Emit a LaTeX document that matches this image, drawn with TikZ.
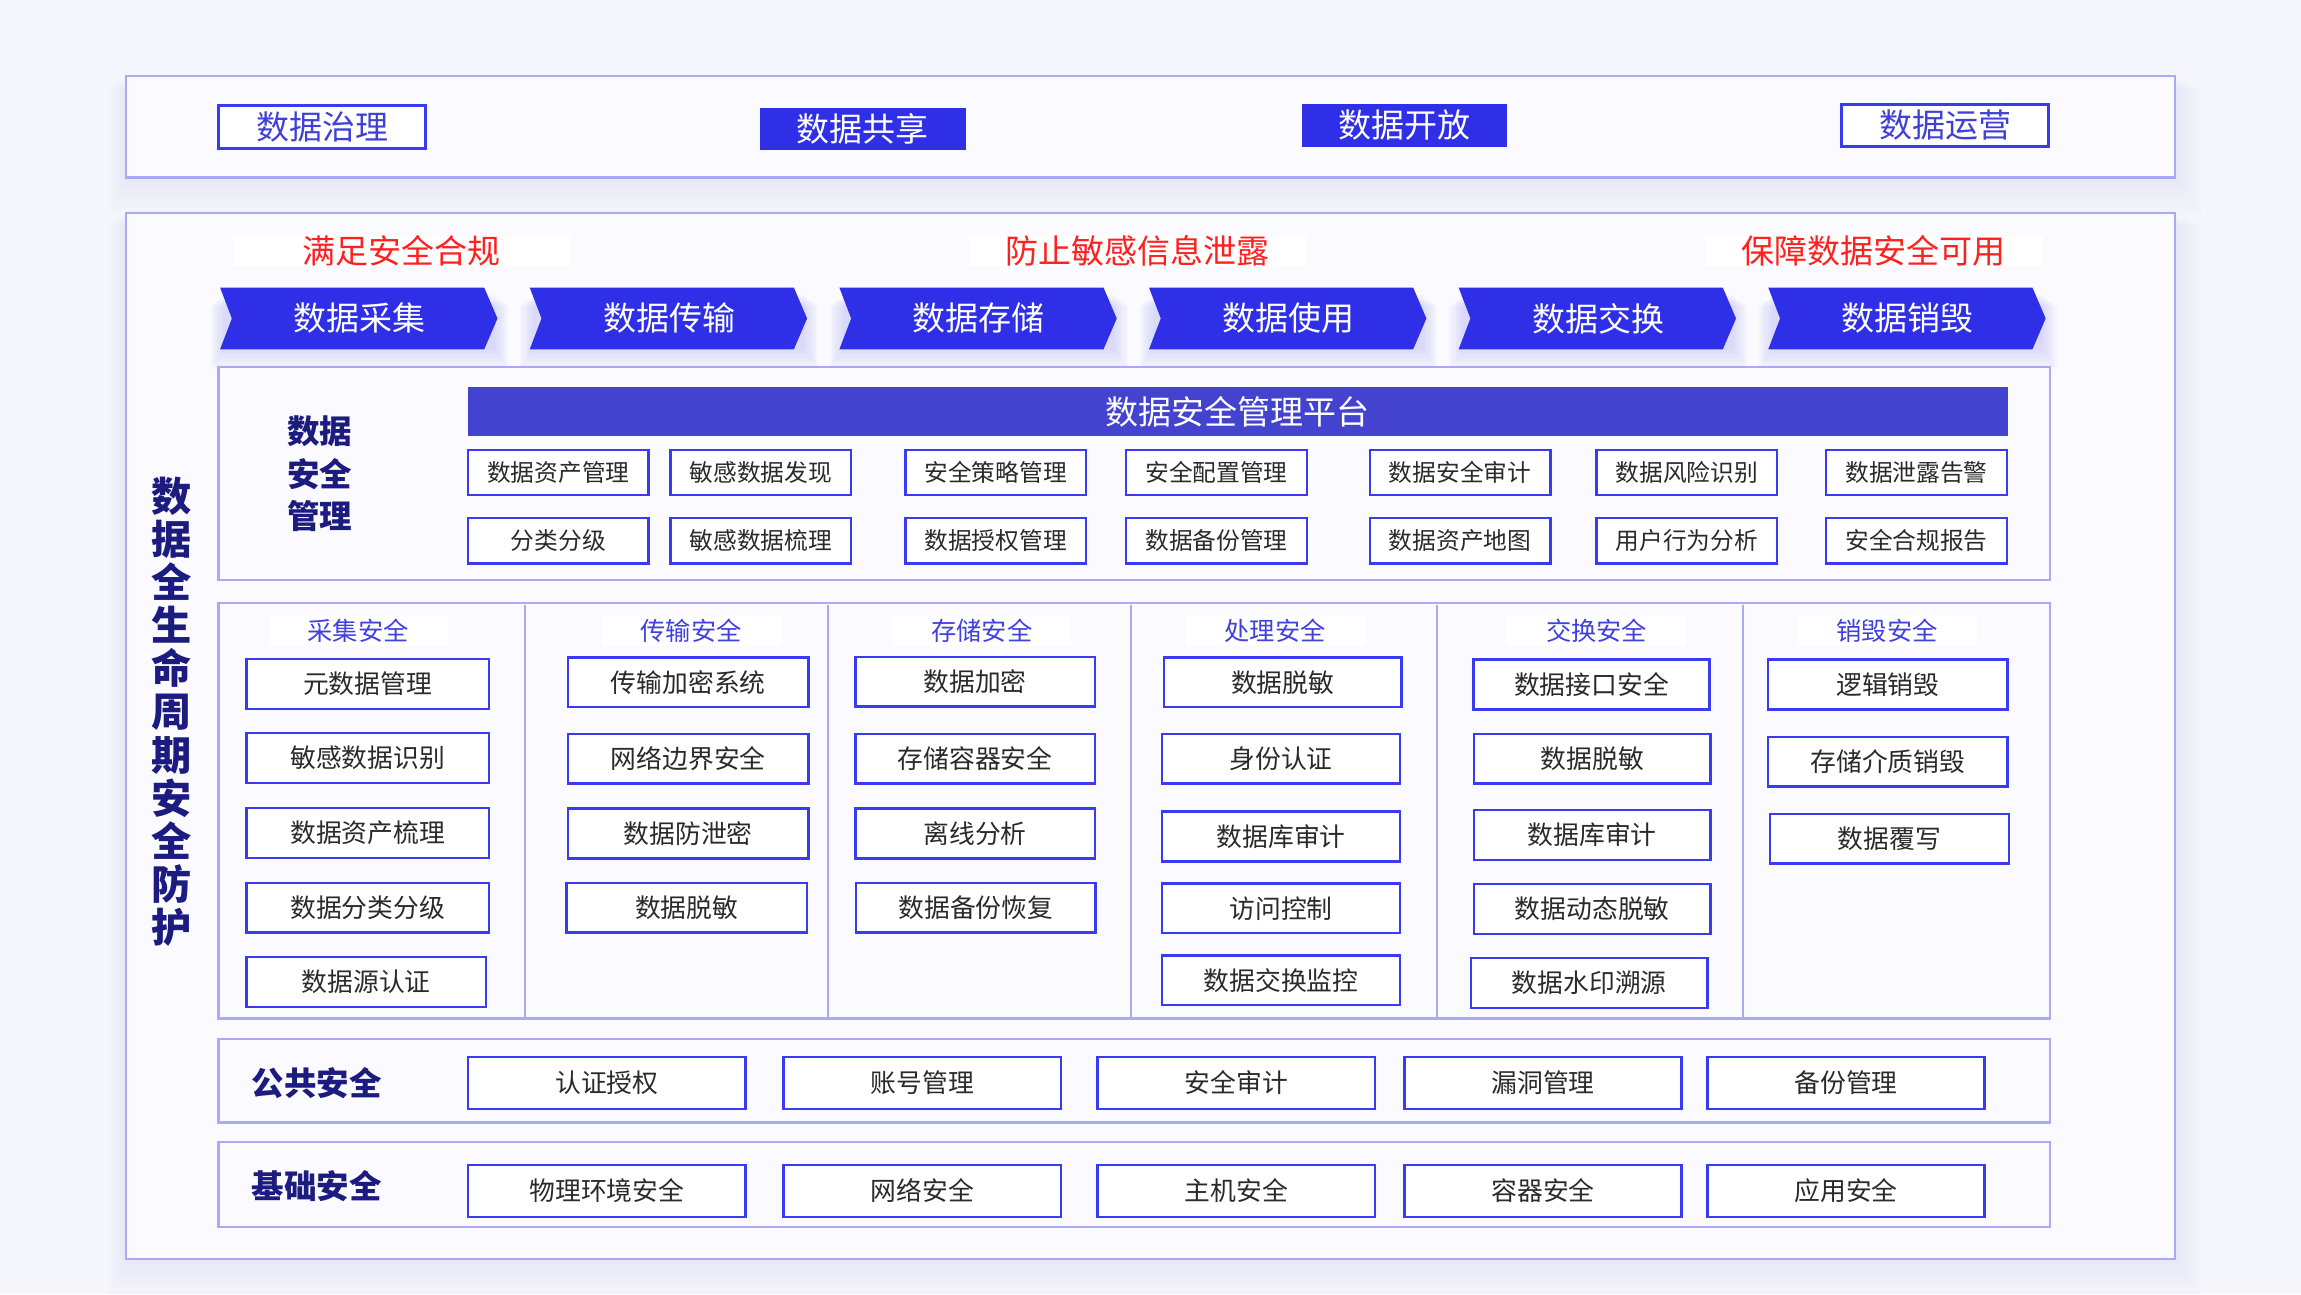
\documentclass[tikz,border=0pt]{standalone}
\usepackage{fontspec}
\setmainfont{Noto Sans CJK SC}
\newcommand\myfs[1]{\fontsize{#1}{#1}\selectfont}
\definecolor{bgc}{HTML}{F5F5FC}
\definecolor{panelfill}{HTML}{FAFAFF}
\definecolor{panelborder}{HTML}{A9A9F4}
\definecolor{boxblue}{HTML}{3A3AF0}
\definecolor{chev}{HTML}{2F2FE8}
\definecolor{plat}{HTML}{4343CF}
\definecolor{redtxt}{HTML}{FF2020}
\definecolor{navy}{HTML}{1C1C80}
\definecolor{hdrblue}{HTML}{4040E0}
\definecolor{itemtxt}{HTML}{2A2A2A}
\definecolor{toptxt}{HTML}{4040D8}
\definecolor{glowc}{HTML}{6A6AF0}
\begin{document}
\begin{tikzpicture}[x=0.1mm,y=-0.1mm,
  panel/.style={draw=panelborder,fill=panelfill,line width=0.45pt},
  divline/.style={draw=panelborder,line width=0.4pt},
  topout/.style={draw=boxblue,fill=white,line width=0.6pt,inner sep=0pt,minimum width=14.1mm,minimum height=2.9mm,text=toptxt,font=\myfs{6.4}},
  topfill/.style={fill=chev,inner sep=0pt,minimum width=14mm,minimum height=2.9mm,text=white,font=\myfs{6.4}},
  goal/.style={fill=white,inner sep=0pt,minimum width=23mm,minimum height=1.9mm,text=redtxt,font=\myfs{6.4}},
  chevtext/.style={text=white,font=\myfs{6.4},inner sep=0pt},
  mbox/.style={draw=boxblue,fill=white,line width=0.45pt,inner sep=0pt,minimum width=12.3mm,minimum height=3.1mm,text=itemtxt,font=\myfs{4.6}},
  ibox/.style={draw=boxblue,fill=white,line width=0.45pt,inner sep=0pt,minimum height=3.4mm,text=itemtxt,font=\myfs{5}},
  pbox/.style={draw=boxblue,fill=white,line width=0.5pt,inner sep=0pt,minimum width=18.9mm,minimum height=3.55mm,text=itemtxt,font=\myfs{5}},
  hdr/.style={fill=white,inner sep=0pt,minimum width=12.2mm,minimum height=2.1mm,text=hdrblue,font=\myfs{4.9}},
  lbl/.style={text=navy,font=\bfseries\myfs{6.3},inner sep=0pt,align=center}
]
% background
\fill[bgc] (0,0) rectangle (1568,882);
\useasboundingbox (0,0) rectangle (1568,882);
% soft shadows of outer boxes
\foreach \k in {1,...,6}{
  \fill[glowc,opacity=0.012] (86-\k*2,52+\k*1.5) rectangle (1482+\k*3,121+\k*4);
  \fill[glowc,opacity=0.012] (86-\k*2,145+\k*1.5) rectangle (1482+\k*3,858+\k*4);
}
% top box
\draw[panel] (86,52) rectangle (1482,121);
\node[topout] (tg) at (219.5,86.5) {数据治理};
\node[topfill] (ts) at (588,88) {数据共享};
\node[topfill] (to) at (957,85.5) {数据开放};
\node[topout] (ty) at (1325.5,85.5) {数据运营};
% main box
\draw[panel] (86,145) rectangle (1482,858);
% vertical label
\node[lbl,font=\bfseries\fontsize{7.8}{8.37}\selectfont,align=center] (vl) at (117,485)
  {数\\据\\全\\生\\命\\周\\期\\安\\全\\防\\护};
% goals
\node[goal] (g1) at (273.5,171) {满足安全合规};
\node[goal] (g2) at (775,171) {防止敏感信息泄露};
\node[goal] (g3) at (1277,171) {保障数据安全可用};
% chevrons
\foreach \t [count=\i from 0] in {数据采集,数据传输,数据存储,数据使用,数据交换,数据销毁}{
  \pgfmathsetmacro\xo{150+211*\i}
  \foreach \k in {1,...,7}{
    \fill[glowc,opacity=0.03] (\xo+4-\k*1.5,200+\k*1.2) rectangle (\xo+186+\k*1.5,236+\k*2.2);
  }
  \fill[chev] (\xo,196) -- ++(180,0) -- ++(9,21) -- ++(-9,21) -- ++(-180,0) -- ++(8,-21) -- cycle;
  \node[chevtext] (c\i) at (\xo+95,217) {\t};
}
% management panel
\draw[panel] (149,250) rectangle (1397,395);
\fill[plat] (319,264) rectangle (1368,297);
\node[text=white,font=\myfs{6.4},inner sep=0pt] (plat) at (843.5,280.5) {数据安全管理平台};
\node[lbl,font=\bfseries\fontsize{6.3}{8.25}\selectfont] (ml) at (218,323) {数据\\安全\\管理};
\node[mbox] (m11) at (380.5,322) {数据资产管理};
\node[mbox] (m12) at (518.5,322) {敏感数据发现};
\node[mbox] (m13) at (678.5,322) {安全策略管理};
\node[mbox] (m14) at (829,322) {安全配置管理};
\node[mbox] (m15) at (995,322) {数据安全审计};
\node[mbox] (m16) at (1149.5,322) {数据风险识别};
\node[mbox] (m17) at (1306,322) {数据泄露告警};
\node[mbox] (m21) at (380.5,368.5) {分类分级};
\node[mbox] (m22) at (518.5,368.5) {敏感数据梳理};
\node[mbox] (m23) at (678.5,368.5) {数据授权管理};
\node[mbox] (m24) at (829,368.5) {数据备份管理};
\node[mbox] (m25) at (995,368.5) {数据资产地图};
\node[mbox] (m26) at (1149.5,368.5) {用户行为分析};
\node[mbox] (m27) at (1306,368.5) {安全合规报告};
% lifecycle panel
\draw[panel] (149,411) rectangle (1397,694);
\foreach \dx in {358,564,771,979,1188}{\draw[divline] (\dx,412) -- (\dx,693);}
\node[hdr] (h1) at (244,430) {采集安全};
\node[hdr] (h2) at (471,430) {传输安全};
\node[hdr] (h3) at (669,430) {存储安全};
\node[hdr] (h4) at (869,430) {处理安全};
\node[hdr] (h5) at (1088,430) {交换安全};
\node[hdr] (h6) at (1286,430) {销毁安全};
% col 1
\node[ibox,minimum width=16.5mm] (a1) at (250.5,466) {元数据管理};
\node[ibox,minimum width=16.5mm] (a2) at (250.5,516.5) {敏感数据识别};
\node[ibox,minimum width=16.5mm] (a3) at (250.5,567.5) {数据资产梳理};
\node[ibox,minimum width=16.5mm] (a4) at (250.5,618.5) {数据分类分级};
\node[ibox,minimum width=16.3mm] (a5) at (249.5,669) {数据源认证};
% col 2
\node[ibox,minimum width=16.4mm] (b1) at (469,465) {传输加密系统};
\node[ibox,minimum width=16.4mm] (b2) at (469,517) {网络边界安全};
\node[ibox,minimum width=16.4mm] (b3) at (469,568) {数据防泄密};
\node[ibox,minimum width=16.4mm] (b4) at (468,618.5) {数据脱敏};
% col 3
\node[ibox,minimum width=16.3mm] (c1b) at (664.5,464.5) {数据加密};
\node[ibox,minimum width=16.3mm] (c2b) at (664.5,517) {存储容器安全};
\node[ibox,minimum width=16.3mm] (c3b) at (664.5,568) {离线分析};
\node[ibox,minimum width=16.3mm] (c4b) at (665,618.5) {数据备份恢复};
% col 4
\node[ibox,minimum width=16.2mm] (d1) at (874,465) {数据脱敏};
\node[ibox,minimum width=16.2mm] (d2) at (873,517) {身份认证};
\node[ibox,minimum width=16.2mm] (d3) at (873,570) {数据库审计};
\node[ibox,minimum width=16.2mm] (d4) at (873,619) {访问控制};
\node[ibox,minimum width=16.2mm] (d5) at (873,668) {数据交换监控};
% col 5
\node[ibox,minimum width=16.1mm] (e1) at (1084.5,466.5) {数据接口安全};
\node[ibox,minimum width=16.1mm] (e2) at (1085,517) {数据脱敏};
\node[ibox,minimum width=16.1mm] (e3) at (1085,569) {数据库审计};
\node[ibox,minimum width=16.1mm] (e4) at (1085,619.5) {数据动态脱敏};
\node[ibox,minimum width=16.1mm] (e5) at (1083,670) {数据水印溯源};
% col 6
\node[ibox,minimum width=16.3mm] (f1) at (1286.5,466.5) {逻辑销毁};
\node[ibox,minimum width=16.3mm] (f2) at (1286.5,519) {存储介质销毁};
\node[ibox,minimum width=16.3mm] (f3) at (1287.5,571.5) {数据覆写};
% public security
\draw[panel] (149,708) rectangle (1397,765);
\node[lbl] (pl) at (216,738) {公共安全};
\node[pbox] (p1) at (413.5,738) {认证授权};
\node[pbox] (p2) at (628.5,738) {账号管理};
\node[pbox] (p3) at (842.5,738) {安全审计};
\node[pbox] (p4) at (1051.5,738) {漏洞管理};
\node[pbox] (p5) at (1258,738) {备份管理};
% base security
\draw[panel] (149,778) rectangle (1397,836);
\node[lbl] (bl) at (216,808) {基础安全};
\node[pbox] (q1) at (413.5,811.5) {物理环境安全};
\node[pbox] (q2) at (628.5,811.5) {网络安全};
\node[pbox] (q3) at (842.5,811.5) {主机安全};
\node[pbox] (q4) at (1051.5,811.5) {容器安全};
\node[pbox] (q5) at (1258,811.5) {应用安全};
\end{tikzpicture}
\end{document}
